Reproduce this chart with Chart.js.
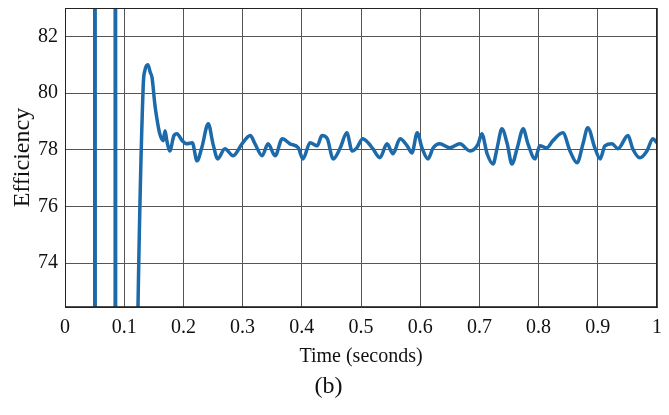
<!DOCTYPE html>
<html>
<head>
<meta charset="utf-8">
<script src="https://cdn.jsdelivr.net/npm/chart.js@4.4.1/dist/chart.umd.min.js"></script>
<style>
  html, body { margin: 0; padding: 0; background: #ffffff; }
  #wrap { width: 669px; height: 415px; }
</style>
</head>
<body>
<div id="wrap"><canvas id="c" width="669" height="415"></canvas></div>
<script>
// Time (seconds)
const timeSeconds = [
  0.000, 0.0500, 0.0505, 0.0515, 0.0845, 0.0850, 0.0860, 0.1215,
  0.132, 0.135, 0.140, 0.144, 0.147, 0.152, 0.155, 0.160, 0.166, 0.169,
  0.172, 0.177, 0.184, 0.189, 0.198, 0.206, 0.215, 0.223, 0.231, 0.242,
  0.250, 0.258, 0.270, 0.284, 0.299, 0.313, 0.321, 0.333, 0.343, 0.355,
  0.367, 0.380, 0.394, 0.402, 0.414, 0.426, 0.434, 0.443, 0.453, 0.465,
  0.476, 0.485, 0.493, 0.503, 0.512, 0.520, 0.532, 0.544, 0.554, 0.566,
  0.578, 0.586, 0.595, 0.603, 0.613, 0.622, 0.633, 0.650, 0.667, 0.684,
  0.698, 0.704, 0.713, 0.723, 0.730, 0.738, 0.747, 0.755, 0.764, 0.774,
  0.782, 0.794, 0.802, 0.814, 0.824, 0.841, 0.853, 0.865, 0.875, 0.883,
  0.895, 0.904, 0.912, 0.924, 0.934, 0.951, 0.959, 0.971, 0.983, 0.993, 1.000
];
// Efficiency
const efficiency = [
  0, 0, 150, 0, 0, 150, 0, 70,
  80.20, 80.80, 81.00, 80.73, 80.55, 79.56, 79.13, 78.57, 78.32, 78.67,
  78.32, 77.96, 78.50, 78.57, 78.32, 78.21, 78.25, 77.61, 78.07, 78.92,
  78.21, 77.68, 78.04, 77.79, 78.21, 78.50, 78.21, 77.79, 78.21, 77.79,
  78.39, 78.21, 78.07, 77.68, 78.25, 78.14, 78.50, 78.39, 77.68, 78.07,
  78.60, 77.96, 78.07, 78.39, 78.25, 78.04, 77.72, 78.21, 77.86, 78.39,
  78.14, 77.89, 78.60, 78.07, 77.68, 78.07, 78.21, 78.07, 78.21, 77.96,
  78.21, 78.57, 77.86, 77.50, 78.07, 78.74, 78.21, 77.50, 78.07, 78.74,
  78.21, 77.68, 78.14, 78.07, 78.32, 78.60, 77.96, 77.54, 78.21, 78.78,
  78.07, 77.68, 78.14, 78.21, 78.04, 78.50, 78.04, 77.72, 77.96, 78.39, 78.25
];
const xTicks = [0, 0.1, 0.2, 0.3, 0.4, 0.5, 0.6, 0.7, 0.8, 0.9, 1];
const yTicks = [74, 76, 78, 80, 82];

const points = timeSeconds.map((t, i) => ({ x: t, y: efficiency[i] }));

const frame = {
  id: 'frame',
  afterDraw(chart) {
    const a = chart.chartArea, ctx = chart.ctx;
    ctx.save();
    ctx.strokeStyle = '#222';
    ctx.lineWidth = 1;
    ctx.strokeRect(a.left + 0.5, a.top + 0.5, a.right - a.left - 1, a.bottom - a.top - 1);
    ctx.restore();
  }
};

const serif = "'Liberation Serif', 'Times New Roman', serif";

new Chart(document.getElementById('c'), {
  type: 'line',
  data: {
    datasets: [{
      data: points,
      borderColor: '#1c6aa9',
      borderWidth: 3.5,
      pointRadius: 0,
      fill: false,
      cubicInterpolationMode: 'monotone'
    }]
  },
  options: {
    responsive: false,
    animation: false,
    devicePixelRatio: 1,
    layout: { padding: { top: 8, right: 12, left: 0, bottom: 0 } },
    plugins: {
      legend: { display: false },
      tooltip: { enabled: false },
      title: {
        display: true,
        position: 'bottom',
        text: '(b)',
        color: '#111',
        font: { family: serif, size: 24, weight: 'normal' },
        padding: { top: 3, bottom: 14 }
      }
    },
    scales: {
      x: {
        type: 'linear',
        min: 0, max: 1,
        afterBuildTicks: s => { s.ticks = xTicks.map(v => ({ value: v })); },
        afterFit: s => { s.height = 62; s.paddingLeft = 0; s.paddingRight = 0; },
        ticks: {
          color: '#111',
          font: { family: serif, size: 20 },
          padding: 9,
          maxRotation: 0,
          callback: v => String(+Number(v).toFixed(1))
        },
        grid: { color: '#555', lineWidth: 1, drawTicks: false },
        border: { display: true, color: '#222' },
        title: {
          display: true,
          text: 'Time (seconds)',
          color: '#111',
          font: { family: serif, size: 20 },
          padding: { top: 0, bottom: 0 }
        }
      },
      y: {
        type: 'linear',
        min: 72.45, max: 83.0,
        afterBuildTicks: s => { s.ticks = yTicks.map(v => ({ value: v })); },
        afterFit: s => { s.width = 65; s.paddingTop = 0; s.paddingBottom = 0; },
        ticks: {
          color: '#111',
          font: { family: serif, size: 20 },
          padding: 7,
          callback: v => String(v)
        },
        grid: { color: '#555', lineWidth: 1, drawTicks: false },
        border: { display: true, color: '#222' },
        title: {
          display: true,
          text: 'Efficiency',
          color: '#111',
          font: { family: serif, size: 24 },
          padding: { top: 8, bottom: 2 }
        }
      }
    }
  },
  plugins: [frame]
});
</script>
</body>
</html>
